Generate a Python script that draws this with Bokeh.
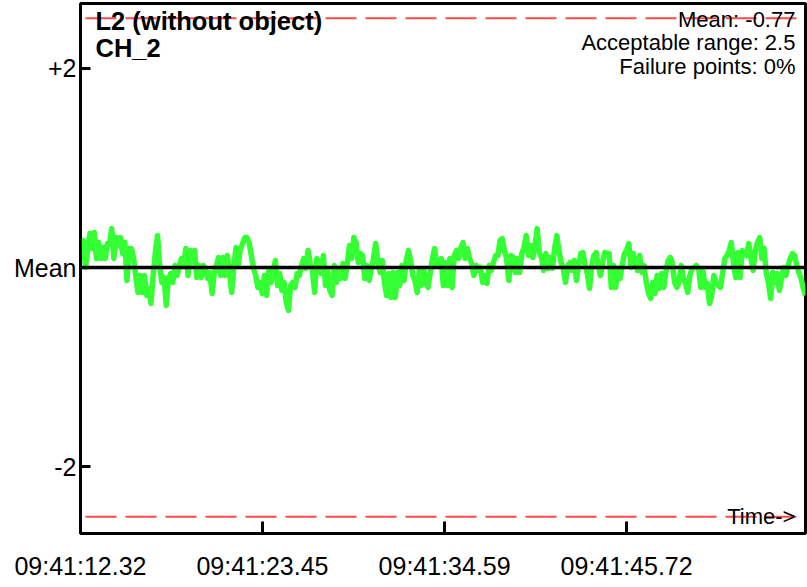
import numpy as np
from bokeh.plotting import figure
from bokeh.models import Range1d, FixedTicker, Span, Label
from bokeh.embed import file_html
from bokeh.resources import INLINE

# ---------------- data ----------------
TITLE = "L2 (without object)"
CHANNEL = "CH_2"
MEAN = -0.77
ACCEPTABLE_RANGE = 2.5
FAILURE_POINTS = "0%"

# time axis (seconds of 09:41)
X_START, X_END = 12.32, 56.66
X_TICKS = [12.32, 23.45, 34.59, 45.72]
X_LABELS = ["09:41:12.32", "09:41:23.45", "09:41:34.59", "09:41:45.72"]
SAMPLE_FIRST, SAMPLE_LAST = 12.36, 56.66

# y ticks relative to the mean
Y_TICKS = [2, 0, -2]
Y_LABELS = ["+2", "Mean", "-2"]
Y_MIN, Y_MAX = -2.667, 2.647

# signal, as deviation from the mean
deviation = [
    0.19, 0.27, 0.00, 0.19, 0.34, 0.19, 0.35, 0.09, 0.25, 0.09,
    0.20, 0.09, 0.24, 0.24, 0.39, 0.09, 0.30, 0.22, 0.30, 0.14,
    0.25, -0.13, 0.19, 0.19, 0.10, -0.08, -0.25, -0.08, -0.25, -0.08,
    -0.28, -0.21, -0.36, -0.08, 0.15, 0.32, 0.02, -0.15, -0.10, -0.38,
    -0.11, -0.06, -0.15, 0.02, -0.08, 0.02, 0.09, 0.02, 0.19, -0.08,
    0.17, 0.05, 0.17, -0.10, 0.02,
    -0.10, 0.02, -0.03, -0.11, -0.05, -0.26, -0.06, 0.02, 0.10, -0.08,
    0.10, -0.08, 0.12, -0.05, -0.25, 0.02, 0.20, 0.02, 0.19, 0.24,
    0.30, 0.30, 0.25, 0.12, -0.01, -0.08, -0.20, -0.15, -0.26, -0.08,
    -0.28, -0.03, -0.15, -0.05, 0.07, -0.18, -0.06, -0.23, -0.15, -0.35,
    -0.43, -0.18, -0.15, -0.20, -0.06, -0.08, 0.02, 0.09, -0.01, 0.17,
    0.04, -0.03, -0.25, 0.09, 0.05,
    -0.06, 0.12, -0.18, -0.03, -0.23, -0.28, 0.02, -0.15, -0.01, -0.11,
    0.04, -0.11, 0.04, 0.22, 0.09, 0.30, 0.25, 0.05, 0.14, 0.12,
    -0.11, 0.02, -0.13, -0.01, 0.09, 0.24, 0.05, -0.05, 0.07, -0.15,
    -0.28, -0.06, -0.30, -0.05, -0.30, -0.05, -0.18, 0.02, -0.13, 0.07,
    0.17, 0.07, -0.08, -0.13, -0.25, -0.03, -0.18, -0.03, -0.15, -0.20,
    -0.05, 0.09, 0.19, 0.02, 0.04,
    0.09, -0.18, 0.05, -0.18, 0.09, -0.20, 0.12, 0.17, 0.09, 0.19,
    0.25, 0.09, 0.19, 0.09, 0.04, -0.08, 0.02, -0.03, 0.00, -0.15,
    -0.08, -0.16, 0.02, -0.03, 0.05, 0.12, 0.12, 0.27, 0.29, 0.17,
    0.09, -0.13, 0.12, 0.10, -0.05, 0.09, -0.05, 0.14, 0.20, 0.32,
    0.12, 0.22, 0.10, 0.22, 0.39, 0.15, 0.10, -0.03, 0.14, -0.01,
    0.10, -0.01, 0.19, 0.32, 0.17, 0.05, -0.01, -0.15,
    0.02, 0.05, -0.03, 0.07, -0.13, 0.02, 0.14, 0.15, 0.02, -0.06,
    -0.21, 0.02, 0.12, 0.15, 0.02, -0.08, 0.05, 0.15, 0.14, 0.14,
    -0.20, 0.02, -0.20, -0.01, -0.11, 0.02, 0.14, 0.17, 0.24, 0.00,
    0.14, 0.07, -0.03, 0.12, -0.05, 0.02, -0.15, -0.25, -0.31, -0.15,
    -0.26, -0.08, -0.21, -0.06, -0.20, -0.05, 0.07, 0.10, 0.05, -0.15,
    -0.20, -0.15, 0.02, -0.10, -0.16, -0.25, -0.08, -0.01,
    0.00, 0.02, -0.01, -0.20, -0.03, -0.20, -0.16, -0.36, -0.28, -0.08,
    -0.15, -0.18, -0.20, -0.06, 0.09, 0.12, 0.17, 0.25, 0.04, -0.10,
    0.15, -0.10, 0.17, 0.14, 0.12, 0.24, 0.09, -0.03, 0.17, 0.25,
    0.30, 0.09, 0.19, -0.05, -0.15, -0.31, -0.05, -0.15, -0.06, -0.23,
    -0.11, 0.00, -0.08, 0.02, 0.09, 0.14, 0.12, 0.02, -0.05, -0.11,
    -0.21, -0.28,
]

# ---------------- figure ----------------
FONT = "Liberation Sans"
W, H = 807, 587
p = figure(width=W, height=H, output_backend="svg", toolbar_location=None,
           x_range=Range1d(X_START, X_END), y_range=Range1d(Y_MIN, Y_MAX),
           min_border_left=80, min_border_right=2, min_border_top=3,
           min_border_bottom=54)
p.grid.visible = False
p.background_fill_color = "white"
p.border_fill_color = "white"
p.outline_line_color = "black"
p.outline_line_width = 3

n = len(deviation)
t = np.linspace(SAMPLE_FIRST, SAMPLE_LAST, n)

# limit lines and mean line
for lim in (ACCEPTABLE_RANGE, -ACCEPTABLE_RANGE):
    p.add_layout(Span(location=lim, dimension="width", line_color="#ff4a4a",
                      line_width=2, line_dash="31 9", line_dash_offset=35))
p.add_layout(Span(location=0, dimension="width", line_color="black", line_width=3.5))

p.line(t, deviation, line_color="#33ff33", line_width=5.5, line_join="round")

# axes
xa = p.xaxis[0]
xa.ticker = FixedTicker(ticks=X_TICKS)
xa.major_label_overrides = {k: v for k, v in zip(X_TICKS, X_LABELS)}
ya = p.yaxis[0]
ya.ticker = FixedTicker(ticks=Y_TICKS)
ya.major_label_overrides = {k: v for k, v in zip(Y_TICKS, Y_LABELS)}
for ax in (xa, ya):
    ax.axis_line_color = "black"
    ax.axis_line_width = 2.5
    ax.major_tick_line_color = "black"
    ax.major_tick_line_width = 3
    ax.major_tick_out = 0
    ax.minor_tick_line_color = None
    ax.major_label_text_font = FONT
    ax.major_label_text_font_size = "25px"
    ax.major_label_text_color = "black"
xa.major_tick_in = 12
xa.major_label_standoff = 18
ya.major_tick_in = 10
ya.major_label_standoff = 4

# annotations (data coordinates)
sec_per_px = (X_TICKS[1] - X_TICKS[0]) / 182.0
unit_per_px = 2.0 / 199.5
left_x = X_START + 15 * sec_per_px
right_x = X_START + 715 * sec_per_px

def ly(px_from_mean):
    return px_from_mean * unit_per_px

for txt, off in ((TITLE, 247), (CHANNEL, 220)):
    p.add_layout(Label(x=left_x, y=ly(off), text=txt, text_font=FONT,
                       text_font_size="25.5px", text_font_style="bold",
                       text_color="black", text_align="left",
                       text_baseline="alphabetic"))
info = [f"Mean: {MEAN}", f"Acceptable range: {ACCEPTABLE_RANGE}",
        f"Failure points: {FAILURE_POINTS}"]
for txt, off in zip(info, (248, 225, 201.5)):
    p.add_layout(Label(x=right_x, y=ly(off), text=txt, text_font=FONT,
                       text_font_size="22px", text_color="black",
                       text_align="right", text_baseline="alphabetic"))
p.add_layout(Label(x=right_x, y=ly(-249), text="Time->", text_font=FONT,
                   text_font_size="22px", text_color="black",
                   text_align="right", text_baseline="alphabetic"))

open("out.html", "w").write(file_html(p, INLINE))
